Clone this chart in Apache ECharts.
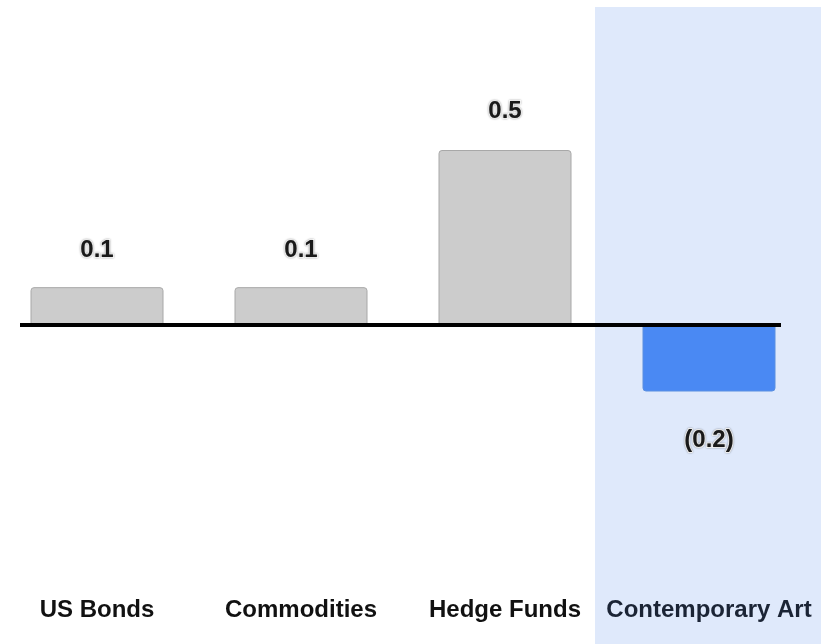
<!DOCTYPE html>
<html>
<head>
<meta charset="utf-8">
<script src="https://cdn.jsdelivr.net/npm/echarts@6/dist/echarts.min.js"></script>
<style>
  html, body { margin: 0; padding: 0; background: #fff; overflow: hidden; }
  #chart { position: absolute; left: -5px; top: 0; width: 835px; height: 644px; }
</style>
</head>
<body>
<div id="chart"></div>
<script>
// data
const categories = ['US Bonds', 'Commodities', 'Hedge Funds', 'Contemporary Art'];
const values = [0.107, 0.107, 0.5, -0.192];
const highlight = 'Contemporary Art';

function fmt(v) {
    let s = Math.abs(v).toFixed(1);
    return v < 0 ? '(' + s + ')' : s;
}

let myChart = echarts.init(document.getElementById('chart'));

const barData = values.map((v, i) => {
    const hot = categories[i] === highlight;
    return {
        value: v,
        itemStyle: {
            color: hot ? '#4a89f3' : '#cccccc',
            borderColor: hot ? '#5a8fe0' : '#a8a8a8',
            borderWidth: 1,
            borderRadius: v < 0 ? [0, 0, 3, 3] : [3, 3, 0, 0]
        },
        label: {
            position: v < 0 ? 'bottom' : 'top',
            distance: v < 0 ? 37 : (v > 0.3 ? 27 : 25)
        }
    };
});

// chart div is shifted 5px left, so pixel positions below are in chart coords
let option = {
    animation: false,
    grid: {
        left: 0,
        right: 19,
        top: 10.4,
        bottom: 75.2
    },
    graphic: [{
        type: 'rect',
        z: -10,
        shape: { x: 600, y: 7, width: 226, height: 637 },
        style: { fill: '#dfe9fb' }
    }],
    xAxis: {
        type: 'category',
        data: categories.map(c => ({
            value: c,
            textStyle: { color: c === highlight ? '#1b2435' : '#111111' }
        })),
        axisLine: { show: false },
        axisTick: { show: false },
        axisLabel: {
            margin: 30,
            fontFamily: 'Liberation Sans, Arial',
            fontWeight: 'bold',
            fontSize: 24,
            interval: 0
        }
    },
    yAxis: {
        type: 'value',
        min: -0.7,
        max: 0.9,
        show: false,
        splitLine: { show: false }
    },
    series: [{
        type: 'bar',
        data: barData,
        barWidth: 133,
        label: {
            show: true,
            formatter: p => fmt(p.value),
            fontFamily: 'Liberation Sans, Arial',
            fontWeight: 'bold',
            fontSize: 24,
            color: '#1a1a1a',
            textBorderColor: '#ffffff',
            textBorderWidth: 2,
            textShadowColor: 'rgba(0,0,0,0.35)',
            textShadowBlur: 2
        },
        markLine: {
            silent: true,
            symbol: 'none',
            label: { show: false },
            lineStyle: { color: '#000', width: 4, type: 'solid' },
            data: [[{ x: 25, yAxis: 0 }, { x: 786, yAxis: 0 }]]
        }
    }]
};

myChart.setOption(option);
</script>
</body>
</html>
